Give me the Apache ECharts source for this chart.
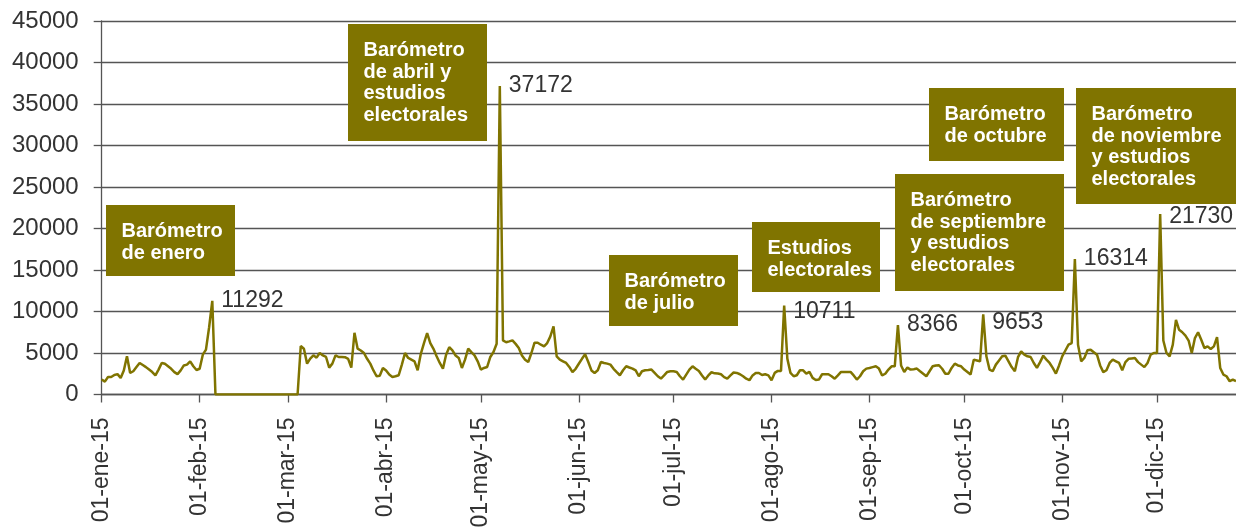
<!DOCTYPE html>
<html>
<head>
<meta charset="utf-8">
<script src="https://cdn.jsdelivr.net/npm/echarts@6/dist/echarts.min.js"></script>
<style>
  html, body { margin: 0; padding: 0; background: #fff; }
  #chart { width: 1236px; height: 530px; }
</style>
</head>
<body>
<div id="chart"></div>
<script>
// valores diarios 2015 (mes a mes)
const ene = [1800, 1550, 2100, 2100, 2350, 2450, 2000, 2900, 4600, 2600,
  2800, 3300, 3800, 3550, 3300, 3000, 2700, 2300, 3000, 3800,
  3700, 3400, 3100, 2700, 2450, 2900, 3500, 3600, 4000, 3400, 2950];
const feb = [3100, 4800, 5400, 8100, 11292, 0, 0, 0, 0, 0,
  0, 0, 0, 0, 0, 0, 0, 0, 0, 0,
  0, 0, 0, 0, 0, 0, 0, 0];
const mar = [0, 0, 0, 0, 5840, 5520, 3720, 4320, 4720, 4440,
  5000, 4700, 4520, 3240, 3720, 4720, 4520, 4520, 4500, 4300,
  3240, 7440, 5520, 5300, 5000, 4300, 3720, 2900, 2200, 2250, 3200];
const abr = [2900, 2400, 2120, 2200, 2320, 3600, 5000, 4400, 4200, 4000,
  2920, 4900, 6200, 7400, 6200, 5500, 4600, 3800, 3120, 4800,
  5700, 5320, 4700, 4400, 3200, 4200, 5520, 5100, 4720, 4000];
const may = [3000, 3200, 3320, 4520, 5120, 6120, 37172, 6520, 6300, 6400,
  6520, 6100, 5600, 4700, 4200, 3920, 5000, 6240, 6240, 6000,
  5800, 6200, 7000, 8200, 4600, 4200, 4000, 3800, 3320, 2700, 3100];
const jun = [3700, 4300, 4840, 3920, 2900, 2600, 2920, 3920, 3800, 3720,
  3600, 3100, 2700, 2320, 2920, 3400, 3250, 3120, 2900, 2200,
  2800, 2920, 2950, 3000, 2600, 2200, 1920, 2300, 2720, 2800];
const jul = [2800, 2720, 2200, 1800, 2400, 3000, 3400, 3100, 2840, 2300,
  1800, 2300, 2680, 2550, 2520, 2440, 2100, 1920, 2300, 2650,
  2600, 2440, 2200, 1900, 1720, 2300, 2600, 2600, 2350, 2440, 2300];
const ago = [1720, 2600, 2840, 2840, 10711, 4320, 2600, 2200, 2320, 2920,
  2920, 2520, 2720, 2000, 1750, 1800, 2440, 2440, 2440, 2200,
  1900, 2300, 2720, 2720, 2720, 2720, 2300, 1800, 2200, 2800, 3120];
const sep = [3200, 3300, 3400, 3120, 2300, 2500, 3000, 3400, 3400, 8366,
  3500, 2720, 3240, 3000, 3050, 3120, 2800, 2500, 2200, 2800,
  3400, 3500, 3520, 3100, 2500, 2500, 3200, 3720, 3500, 3400];
const oct = [3000, 2700, 2400, 4200, 4100, 4000, 9653, 4600, 3000, 2800,
  3600, 4100, 4600, 4680, 4000, 3300, 2800, 4500, 5200, 4800,
  4600, 4520, 3800, 3200, 3900, 4680, 4200, 3800, 3200, 2520, 3500];
const nov = [4600, 5300, 6000, 6200, 16314, 6000, 4000, 4400, 5320, 5400,
  5100, 4800, 3500, 2700, 2920, 3800, 4200, 4000, 3800, 2920,
  3900, 4300, 4350, 4400, 3900, 3600, 3300, 3800, 4800, 5000];
const dic = [5000, 21730, 6500, 5000, 4600, 6000, 9000, 7800, 7500, 7100,
  6500, 5000, 6800, 7500, 6600, 5600, 5800, 5480, 5800, 6920,
  3200, 2400, 2200, 1600, 1800, 1600];

const valores = [].concat(ene, feb, mar, abr, may, jun, jul, ago, sep, oct, nov, dic);
const mesesCortos = ["ene", "feb", "mar", "abr", "may", "jun", "jul", "ago", "sep", "oct", "nov", "dic"];
const picos = [35, 126, 216, 252, 279, 308, 335];

// fechas tipo "01-ene-15"
const fechas = [];
for (let i = 0; i < valores.length; i++) {
  const d = new Date(2015, 0, 1 + i);
  const dd = String(d.getDate()).padStart(2, "0");
  fechas.push(`${dd}-${mesesCortos[d.getMonth()]}-15`);
}

const anotaciones = [
  { texto: "Barómetro\nde enero", caja: [106, 205, 129, 71] },
  { texto: "Barómetro\nde abril y\nestudios\nelectorales", caja: [348, 24, 139, 117] },
  { texto: "Barómetro\nde julio", caja: [609, 255, 129, 71] },
  { texto: "Estudios\nelectorales", caja: [752, 222, 128, 70] },
  { texto: "Barómetro\nde septiembre\ny estudios\nelectorales", caja: [895, 174, 169, 117] },
  { texto: "Barómetro\nde octubre", caja: [929, 88, 135, 73] },
  { texto: "Barómetro\nde noviembre\ny estudios\nelectorales", caja: [1076, 88, 164, 116] },
];

// desplazamiento vertical de algunas etiquetas de pico
const desplazEtiqueta = { 216: 6, 279: 8, 335: 3 };

const olivo = "#807400";
const gris = "#555";
const fuente = "'Liberation Sans', Arial, sans-serif";
const esInicioMes = (idx, val) => val.startsWith("01-");

const graficos = [];
anotaciones.forEach((a) => {
  const [x, y, w, h] = a.caja;
  graficos.push({
    type: "rect", z: 100,
    shape: { x, y, width: w, height: h },
    style: { fill: olivo },
  });
  graficos.push({
    type: "text", z: 101,
    style: {
      text: a.texto, x: x + 15.5, y: y + 16,
      fill: "#fff", fontSize: 20, fontWeight: "bold", fontFamily: fuente,
      lineHeight: 21.5, verticalAlign: "top",
    },
  });
});

const chart = echarts.init(document.getElementById("chart"));
chart.setOption({
  animation: false,
  grid: { left: 101.7, right: 0, top: 21, bottom: 135.5, outerBoundsMode: "none" },
  xAxis: {
    type: "category",
    data: fechas,
    boundaryGap: false,
    axisLine: { lineStyle: { color: gris, width: 1.3 } },
    axisTick: { interval: esInicioMes, length: 8, lineStyle: { color: gris, width: 1.3 } },
    axisLabel: {
      interval: esInicioMes, rotate: 90, margin: 23,
      fontSize: 23, color: "#333", fontFamily: fuente,
    },
    splitLine: { show: false },
  },
  yAxis: {
    type: "value",
    min: 0, max: 45000, interval: 5000,
    axisLine: { show: true, lineStyle: { color: gris, width: 1.3 } },
    axisTick: { show: true, length: 8, lineStyle: { color: gris, width: 1.3 } },
    axisLabel: {
      margin: 23, fontSize: 24, color: "#333", fontFamily: fuente,
      formatter: (v) => String(v),
    },
    splitLine: { lineStyle: { color: gris, width: 1.3 } },
  },
  series: [{
    type: "line",
    data: valores,
    showSymbol: false,
    lineStyle: { color: olivo, width: 2.5 },
    itemStyle: { color: olivo },
    markPoint: {
      symbol: "circle",
      symbolSize: 0,
      label: {
        show: true, position: "right", distance: 9,
        fontSize: 23, color: "#333", fontFamily: fuente, formatter: "{c}",
      },
      data: picos.map((i) => ({
        coord: [fechas[i], valores[i]],
        value: valores[i],
        label: { offset: [0, desplazEtiqueta[i] || 0] },
      })),
    },
  }],
  graphic: graficos,
});
</script>
</body>
</html>
